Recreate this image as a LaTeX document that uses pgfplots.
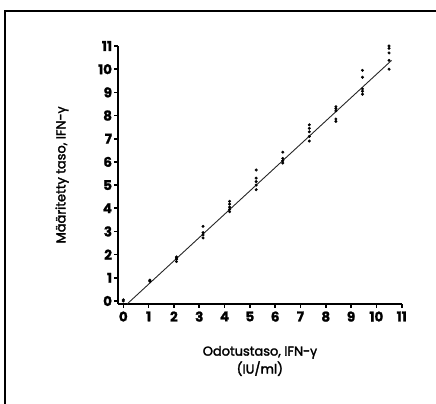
\documentclass[border=0pt]{standalone}
\usepackage{fontspec}
\setmainfont{Poppins}
\newfontfamily\labfont{Poppins}[FakeBold=2.2]
\newfontfamily\tickfont{Poppins}[UprightFont=*, BoldFont=* Bold, BoldFeatures={FakeBold=1.5}]
\newfontfamily\grfont{Open Sans}[FakeBold=2.5]
\newcommand{\gam}{{\grfont γ}}
\usepackage{pgfplots}
\pgfplotsset{compat=1.18}
\begin{document}
\begin{tikzpicture}
\path[use as bounding box] (0,0) rectangle (436bp,404bp);
\draw[line width=1.4bp,black] (5bp,0) -- (5bp,393bp) -- (436bp,393bp);
\begin{axis}[
  at={(118bp,100bp)}, anchor=south west,
  scale only axis, width=283.7bp, height=258bp,
  xmin=-0.21, xmax=11, ymin=-0.13, ymax=11,
  axis lines*=left,
  axis line style={line width=1.8bp},
  every tick/.style={line width=1.6bp,black},
  tick align=outside, major tick length=4bp,
  xtick={0,...,11}, ytick={0,...,11},
  /pgf/number format/assume math mode=true,
  tick label style={font=\fontsize{13.5}{15}\selectfont\tickfont\bfseries},
  xticklabel style={yshift=0bp},
  yticklabel style={xshift=1.5bp},
  xlabel={Odotustaso, IFN-\gam\\(IU/ml)},
  ylabel={Määritetty taso, IFN-\gam},
  xlabel style={at={(axis description cs:0.5,-0.221)}, anchor=center, align=center, font=\fontsize{13}{18}\selectfont\labfont},
  ylabel style={at={(axis description cs:-0.197,0.5)}, anchor=center, font=\fontsize{13}{14}\selectfont\labfont},
  clip=false,
]
\addplot[only marks, mark=*, mark size=1.3bp, black] coordinates {
(0,0.05) (0,0.0)
(1.05,0.9) (1.05,0.87) (1.05,0.85)
(2.1,1.7) (2.1,1.8) (2.1,1.9) (2.1,1.85)
(3.15,2.72) (3.15,2.85) (3.15,2.95) (3.15,3.22)
(4.2,3.85) (4.2,3.95) (4.2,4.05) (4.2,4.18) (4.2,4.3)
(5.25,4.8) (5.25,5.0) (5.25,5.15) (5.25,5.3) (5.25,5.65)
(6.3,5.95) (6.3,6.05) (6.3,6.15) (6.3,6.42)
(7.35,6.9) (7.35,7.1) (7.35,7.3) (7.35,7.45) (7.35,7.6)
(8.4,7.75) (8.4,7.85) (8.4,8.2) (8.4,8.3) (8.4,8.38)
(9.45,8.92) (9.45,9.05) (9.45,9.15) (9.45,9.65) (9.45,9.95)
(10.5,10.0) (10.5,10.38) (10.5,10.7) (10.5,10.9) (10.5,11.0)
};
\addplot[line width=0.9bp, black!85] coordinates {(0.15,-0.13) (10.6,10.38)};
\end{axis}
\end{tikzpicture}
\end{document}
